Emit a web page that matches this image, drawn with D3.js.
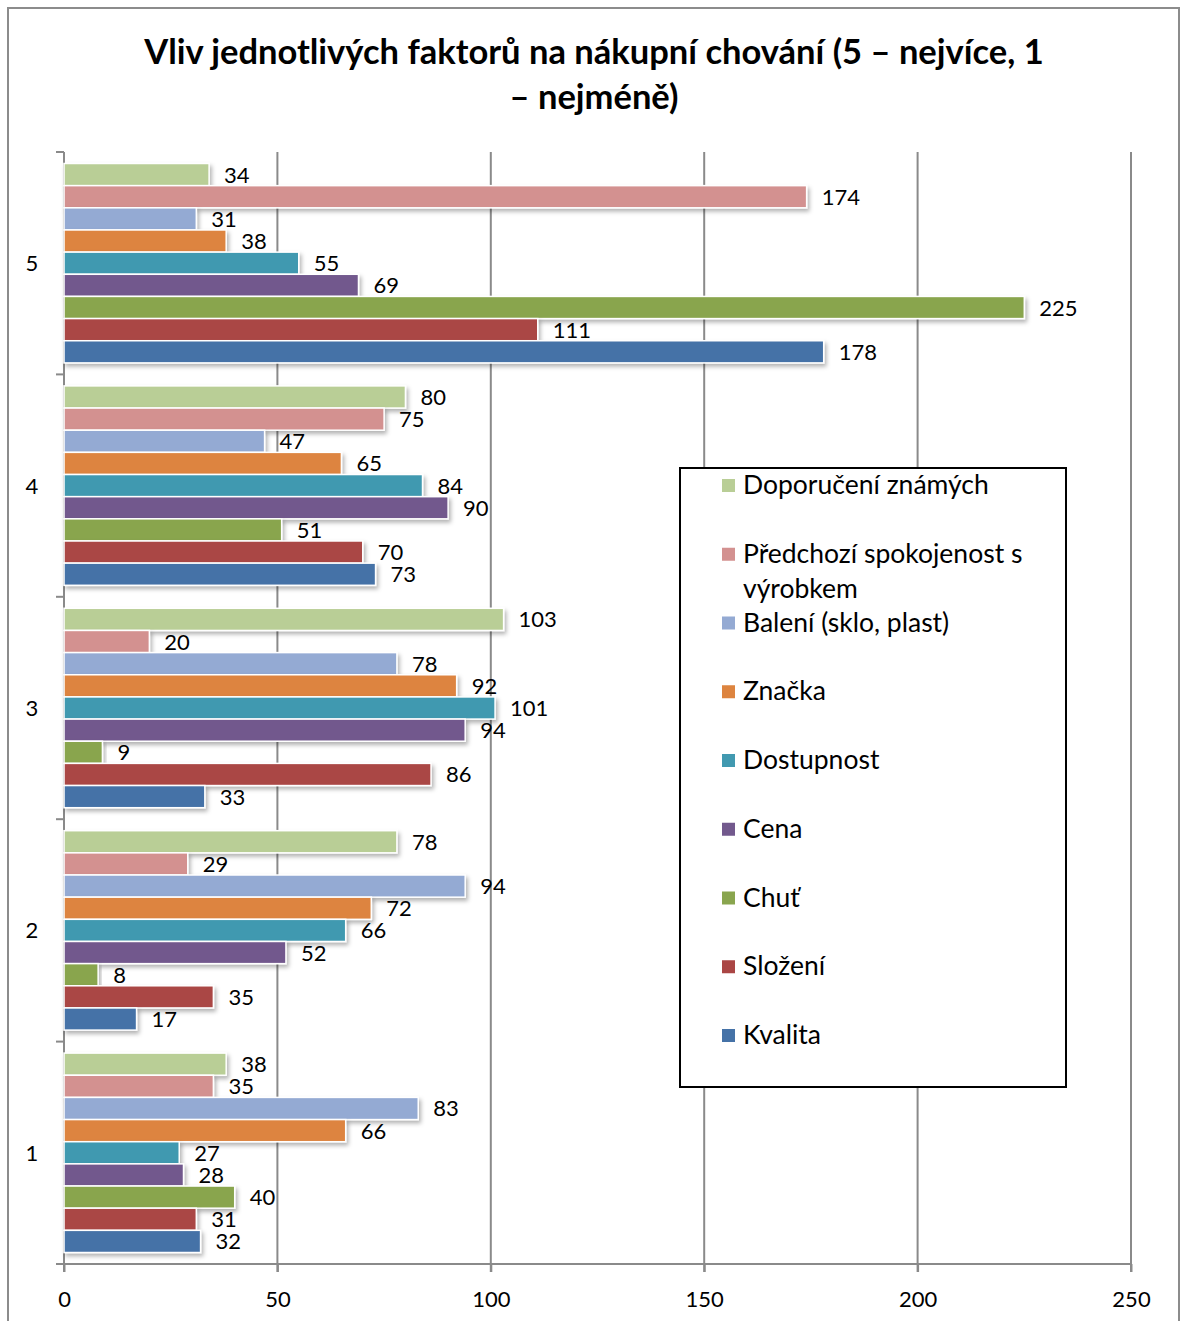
<!DOCTYPE html>
<html><head><meta charset="utf-8">
<script src="https://cdn.jsdelivr.net/npm/d3@7"></script>
<style>body{margin:0;background:#fff}svg{display:block}text{font-family:Lato,"Open Sans",sans-serif}</style>
</head><body>
<svg id="c" width="1181" height="1321"></svg>
<script>
const categories = ["5","4","3","2","1"];
const seriesNames = ["Doporučení známých","Předchozí spokojenost s výrobkem","Balení (sklo, plast)","Značka","Dostupnost","Cena","Chuť","Složení","Kvalita"];
const seriesColors = ["#B9CE96","#D39190","#94AAD3","#DD843F","#4199B0","#72598D","#89A54E","#AA4644","#4572A7"];
// values per category, in series order
const values5 = [34,174,31,38,55,69,225,111,178];
const values4 = [80,75,47,65,84,90,51,70,73];
const values3 = [103,20,78,92,101,94,9,86,33];
const values2 = [78,29,94,72,66,52,8,35,17];
const values1 = [38,35,83,66,27,28,40,31,32];
const xTicks = [0,50,100,150,200,250];
const legendLines = [["Doporučení známých"],["Předchozí spokojenost s","výrobkem"],["Balení (sklo, plast)"],["Značka"],["Dostupnost"],["Cena"],["Chuť"],["Složení"],["Kvalita"]];

const valuesByCat = {"5":values5,"4":values4,"3":values3,"2":values2,"1":values1};
const svg = d3.select("#c");
const defs = svg.append("defs");
const f = defs.append("filter").attr("id","sh").attr("x","-5%").attr("y","-30%").attr("width","115%").attr("height","190%");
f.append("feDropShadow").attr("dx",2).attr("dy",3).attr("stdDeviation",2).attr("flood-color","#000").attr("flood-opacity",0.3);

// outer border
svg.append("rect").attr("x",8).attr("y",8).attr("width",1171).attr("height",1340).attr("fill","#fff").attr("stroke","#8c8c8c").attr("stroke-width",2);

// title
const title = svg.append("text").attr("text-anchor","middle").attr("font-weight","bold").attr("font-size",34.5).attr("fill","#000");
title.append("tspan").attr("x",594).attr("y",64).text("Vliv jednotlivých faktorů na nákupní chování (5 – nejvíce, 1");
title.append("tspan").attr("x",594).attr("y",109).text("– nejméně)");

const x = d3.scaleLinear().domain([0,250]).range([64,1131]);
const y = d3.scaleBand().domain(categories).range([152,1264]).paddingInner(0).paddingOuter(0);
const ys = d3.scaleBand().domain(seriesNames).range([11.5, y.bandwidth()-11.5]);

// gridlines
svg.append("g").selectAll("line").data(xTicks.filter(d=>d>0)).join("line")
  .attr("x1",d=>x(d)).attr("x2",d=>x(d)).attr("y1",152).attr("y2",1272)
  .attr("stroke","#8a8a8a").attr("stroke-width",2);

// axes
const xAxis = svg.append("g").attr("transform","translate(0,1264)")
  .call(d3.axisBottom(x).tickValues(xTicks).tickSize(8).tickPadding(19).tickFormat(d3.format("d")));
xAxis.select(".domain").attr("stroke","#8a8a8a").attr("stroke-width",2).attr("d","M56,0H1131");
xAxis.selectAll(".tick line").attr("stroke","#8a8a8a").attr("stroke-width",2);
xAxis.selectAll(".tick text").attr("font-size",22).attr("fill","#000").attr("font-family","Lato,'Open Sans',sans-serif");

const yBounds = [152,374.4,596.8,819.2,1041.6,1264];
svg.append("g").selectAll("line").data(yBounds).join("line")
  .attr("x1",56).attr("x2",64).attr("y1",d=>d).attr("y2",d=>d).attr("stroke","#8a8a8a").attr("stroke-width",2);
svg.append("line").attr("x1",64).attr("x2",64).attr("y1",152).attr("y2",1272).attr("stroke","#8a8a8a").attr("stroke-width",2);
svg.append("g").selectAll("text").data(categories).join("text")
  .attr("x",32).attr("y",d=>y(d)+y.bandwidth()/2+8).attr("text-anchor","middle").attr("font-size",22).text(d=>d);

// bars
const rows = [];
categories.forEach(c=>seriesNames.forEach((s,i)=>rows.push({c,s,i,v:valuesByCat[c][i]})));
const bars = svg.append("g");
bars.selectAll("rect").data(rows).join("rect")
  .attr("x",x(0)).attr("y",d=>y(d.c)+ys(d.s)).attr("width",d=>x(d.v)-x(0)).attr("height",ys.bandwidth())
  .attr("fill",d=>seriesColors[d.i]).attr("stroke","#fff").attr("stroke-width",1.5).attr("filter","url(#sh)");
svg.append("g").selectAll("text").data(rows).join("text")
  .attr("x",d=>x(d.v)+15).attr("y",d=>y(d.c)+ys(d.s)+ys.bandwidth()/2+8)
  .attr("font-size",22).attr("fill","#000").text(d=>d.v);

// legend
const lg = svg.append("g");
lg.append("rect").attr("x",680).attr("y",468).attr("width",386).attr("height",619).attr("fill","#fff").attr("stroke","#000").attr("stroke-width",2);
legendLines.forEach((lines,i)=>{
  const cy = 485 + i*68.75;
  lg.append("rect").attr("x",722).attr("y",cy-6).attr("width",13).attr("height",13).attr("fill",seriesColors[i]);
  const t = lg.append("text").attr("font-size",26.5).attr("fill","#000");
  lines.forEach((ln,j)=>t.append("tspan").attr("x",743).attr("y",cy+9+j*35).text(ln));
});
</script>
</body></html>
